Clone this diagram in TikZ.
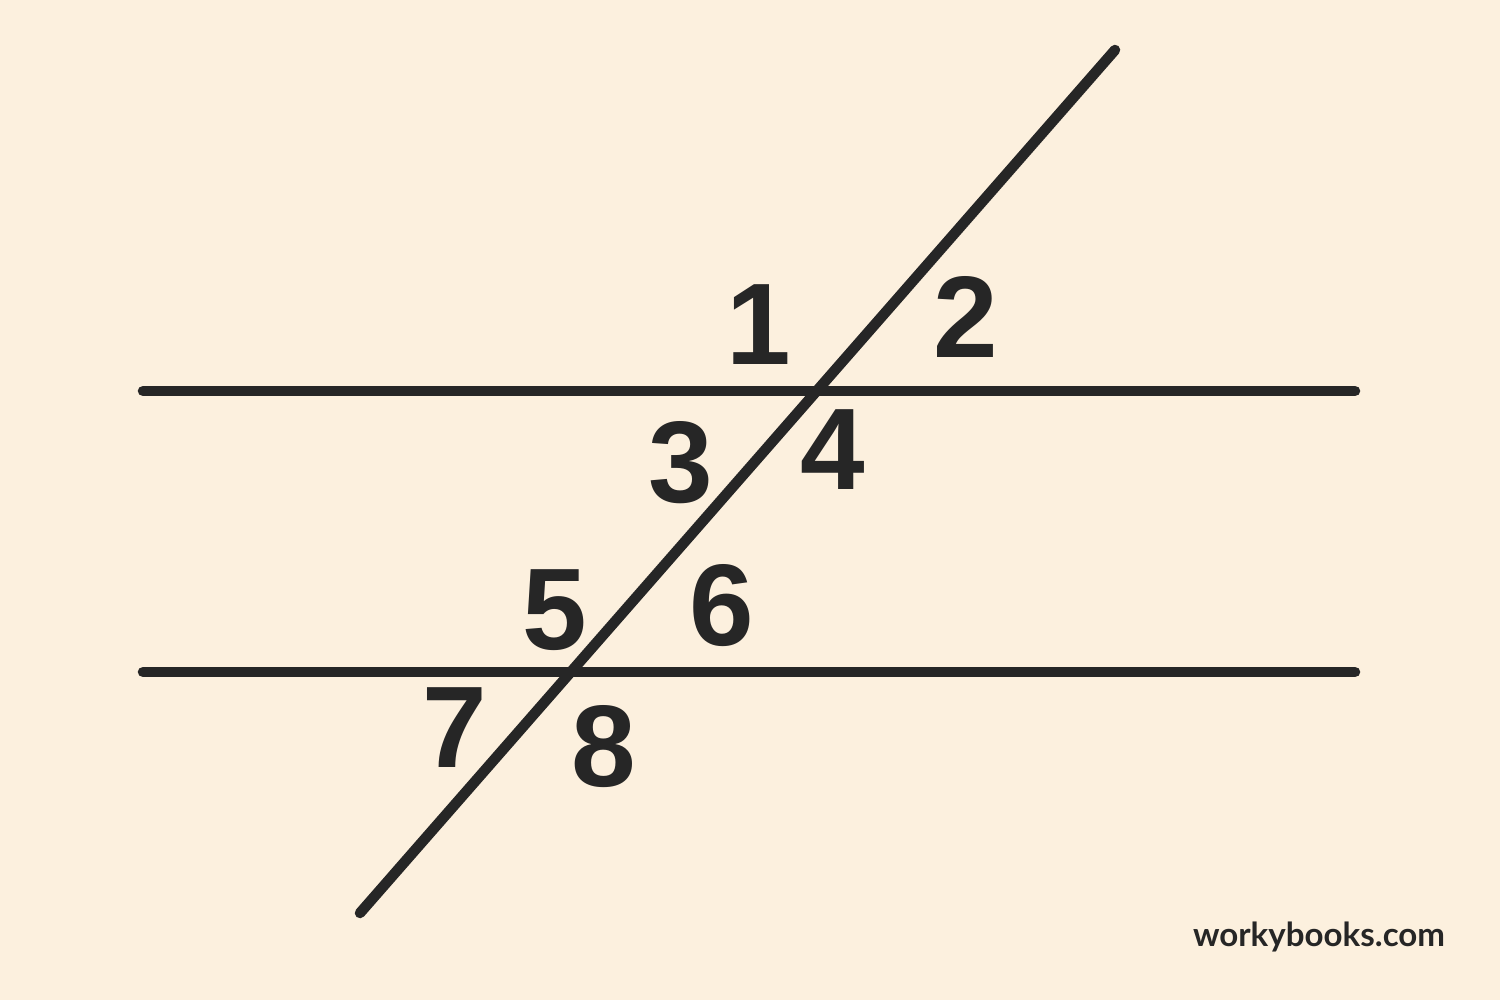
\documentclass[tikz,border=0pt]{standalone}
\usepackage{fontspec}
\setmainfont{Liberation Sans}
\newfontfamily\sitefont{Lato}
\definecolor{paper}{RGB}{252,240,222}
\definecolor{ink}{RGB}{38,38,38}
\begin{document}
\begin{tikzpicture}[x=0.01cm, y=-0.01cm,
    line/.style={ink, line width=0.105cm, line cap=round},
    num/.style={text=ink, inner sep=0pt, font=\fontsize{33}{33}\selectfont\bfseries}]
    \fill[paper] (0,0) rectangle (1500,1000);
    \useasboundingbox (0,0) rectangle (1500,1000);
    % end points of the lines
    \coordinate (p1) at (143,391);
    \coordinate (q1) at (1355,391);
    \coordinate (p2) at (143,672);
    \coordinate (q2) at (1355,672);
    \coordinate (t1) at (360,913);
    \coordinate (t2) at (1115,50);
    \draw [line] (p1) -- (q1);
    \draw [line] (p2) -- (q2);
    \draw [line] (t1) -- (t2);
    % angle numbers
    \node[num] (a1) at (759,325) {1};
    \node[num] (a2) at (966,317) {2};
    \node[num] (a3) at (681,463) {3};
    \node[num] (a4) at (833,450) {4};
    \node[num] (a5) at (555,610) {5};
    \node[num] (a6) at (722,606) {6};
    \node[num] (a7) at (455,728) {7};
    \node[num] (a8) at (604,747) {8};
    \node[text=ink, inner sep=0pt, font=\sitefont\bfseries\fontsize{9.4}{9.4}\selectfont] (site) at (1319,937) {workybooks.com};
\end{tikzpicture}
\end{document}
